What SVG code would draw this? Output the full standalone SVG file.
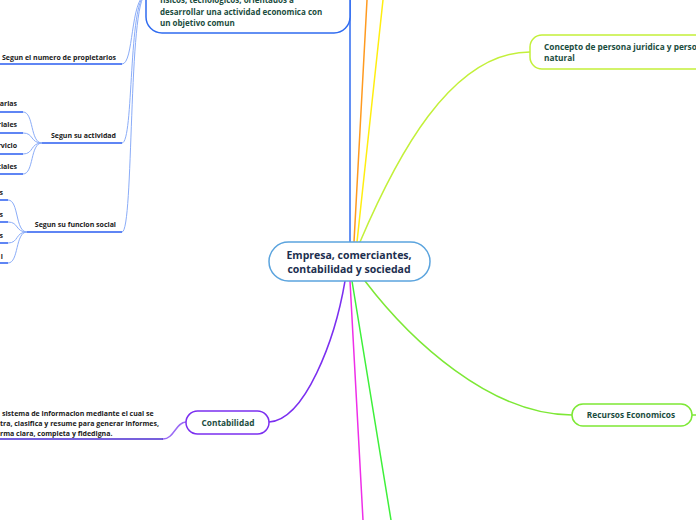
<svg xmlns="http://www.w3.org/2000/svg" width="696" height="520" viewBox="0 0 696 520">
<style>
  text { font-family: "Open Sans", "Noto Sans", "Liberation Sans", sans-serif; font-weight: 700; }
  .t-center { font-size: 10.5px; fill: #1c2f4f; text-anchor: middle; }
  .t-node { font-size: 8.3px; fill: #1b4d3e; }
  .t-top { font-size: 8px; fill: #1b4d3e; }
  .t-small { font-size: 7px; fill: #1a1a1a; }
  .conn { fill: none; stroke-width: 1.5; stroke-linecap: round; }
  .sub { fill: none; stroke: #8aacf8; stroke-width: 1; }
  .ul { fill: none; stroke: #2a5cf0; stroke-width: 1.5; }
</style>
<rect width="696" height="520" fill="#ffffff"/>
<g id="connectors">
  <path class="conn" d="M350,242 L350,0" stroke="#2f6bf0"/>
  <path class="conn" d="M354,242 L367,0" stroke="#ff9a1f"/>
  <path class="conn" d="M357,242 L383,0" stroke="#ffee10"/>
  <path class="conn" d="M360,242 C395,160 450,52 530,52" stroke="#c3f03a" stroke-width="1.2"/>
  <path class="conn" d="M365,281 C410,340 490,415 572,415" stroke="#7de835" stroke-width="1.2"/>
  <path class="conn" d="M350,281 L363,520" stroke="#ee2ee8"/>
  <path class="conn" d="M352,281 L391,520" stroke="#3ef03a"/>
  <path class="conn" d="M345,281 C335,340 305,420 269,422" stroke="#7b2ff0"/>
  <path class="conn" d="M186,422 C176,422 174,439 163,439" stroke="#9a6af5" stroke-width="1"/>
  <path class="conn" d="M692,415 L696,415" stroke="#7de835"/>
  <path class="sub" d="M122,64 C134,64 130,0 146,-6"/>
  <path class="sub" d="M122,143 C134,143 128,0 146,-6"/>
  <path class="sub" d="M122,232 C134,232 128,0 146,-6"/>
  <path class="sub" d="M23,112 C34,112 30,143 42,143"/>
  <path class="sub" d="M23,133 C34,133 30,143 42,143"/>
  <path class="sub" d="M23,154 C34,154 30,143 42,143"/>
  <path class="sub" d="M23,174 C34,174 30,143 42,143"/>
  <path class="sub" d="M8,200 C19,200 15,232 27,232"/>
  <path class="sub" d="M8,222 C19,222 15,232 27,232"/>
  <path class="sub" d="M8,243 C19,243 15,232 27,232"/>
  <path class="sub" d="M8,263 C19,263 15,232 27,232"/>
</g>
<g id="node-center">
  <rect x="269" y="242" width="161" height="39" rx="19.5" fill="#ffffff" stroke="#5ba4de" stroke-width="1.5"/>
  <text class="t-center" x="349" y="259">Empresa, comerciantes,</text>
  <text class="t-center" x="349" y="273">contabilidad y sociedad</text>
</g>
<g id="node-empresa">
  <rect x="146" y="-40" width="204" height="73" rx="16" fill="#ffffff" stroke="#2f6bf0" stroke-width="1.5"/>
  <text class="t-top" x="160" y="3">fisicos, tecnologicos, orientados a</text>
  <text class="t-top" x="160" y="15">desarrollar una actividad economica con</text>
  <text class="t-top" x="160" y="26">un objetivo comun</text>
</g>
<g id="node-propietarios">
  <path class="ul" d="M0,64 L122,64"/>
  <text class="t-small" x="116" y="60" text-anchor="end">Segun el numero de propietarios</text>
</g>
<g id="node-actividad">
  <path class="ul" d="M42,143 L122,143"/>
  <text class="t-small" x="116" y="138" text-anchor="end">Segun su actividad</text>
</g>
<g id="leaf-a1"><path class="ul" d="M0,112 L23,112"/><text class="t-small" x="17" y="106" text-anchor="end">arias</text></g>
<g id="leaf-a2"><path class="ul" d="M0,133 L23,133"/><text class="t-small" x="17" y="127" text-anchor="end">riales</text></g>
<g id="leaf-a3"><path class="ul" d="M0,154 L23,154"/><text class="t-small" x="17" y="148" text-anchor="end">rvicio</text></g>
<g id="leaf-a4"><path class="ul" d="M0,174 L23,174"/><text class="t-small" x="17" y="169" text-anchor="end">ciales</text></g>
<g id="node-funcion">
  <path class="ul" d="M27,232 L122,232"/>
  <text class="t-small" x="116" y="227" text-anchor="end">Segun su funcion social</text>
</g>
<g id="leaf-f1"><path class="ul" d="M0,200 L8,200"/><text class="t-small" x="3" y="195" text-anchor="end">s</text></g>
<g id="leaf-f2"><path class="ul" d="M0,222 L8,222"/><text class="t-small" x="3" y="217" text-anchor="end">s</text></g>
<g id="leaf-f3"><path class="ul" d="M0,243 L8,243"/><text class="t-small" x="3" y="238" text-anchor="end">s</text></g>
<g id="leaf-f4"><path class="ul" d="M0,263 L8,263"/><text class="t-small" x="3" y="259" text-anchor="end">l</text></g>
<g id="node-concepto">
  <rect x="530" y="35" width="190" height="34" rx="12" fill="#ffffff" stroke="#c3f03a" stroke-width="1.5"/>
  <text class="t-node" x="544" y="50">Concepto de persona juridica y perso</text>
  <text class="t-node" x="544" y="61">natural</text>
</g>
<g id="node-recursos">
  <rect x="572" y="404" width="120" height="22" rx="11" fill="#ffffff" stroke="#7de835" stroke-width="1.5"/>
  <text class="t-node" x="631" y="418" text-anchor="middle" font-size="9">Recursos Economicos</text>
</g>
<g id="node-contabilidad">
  <rect x="186" y="411" width="83" height="23" rx="11.5" fill="#ffffff" stroke="#7b2ff0" stroke-width="1.5"/>
  <text class="t-node" x="228" y="426" text-anchor="middle" font-size="10">Contabilidad</text>
</g>
<g id="node-contabilidad-def">
  <path d="M0,439 L163,439" fill="none" stroke="#4a2bd0" stroke-width="1.5"/>
  <text class="t-small" x="2" y="416">sistema de informacion mediante el cual se</text>
  <text class="t-small" x="0" y="426">tra, clasifica y resume para generar informes,</text>
  <text class="t-small" x="0" y="436">rma clara, completa y fidedigna.</text>
</g>
</svg>
